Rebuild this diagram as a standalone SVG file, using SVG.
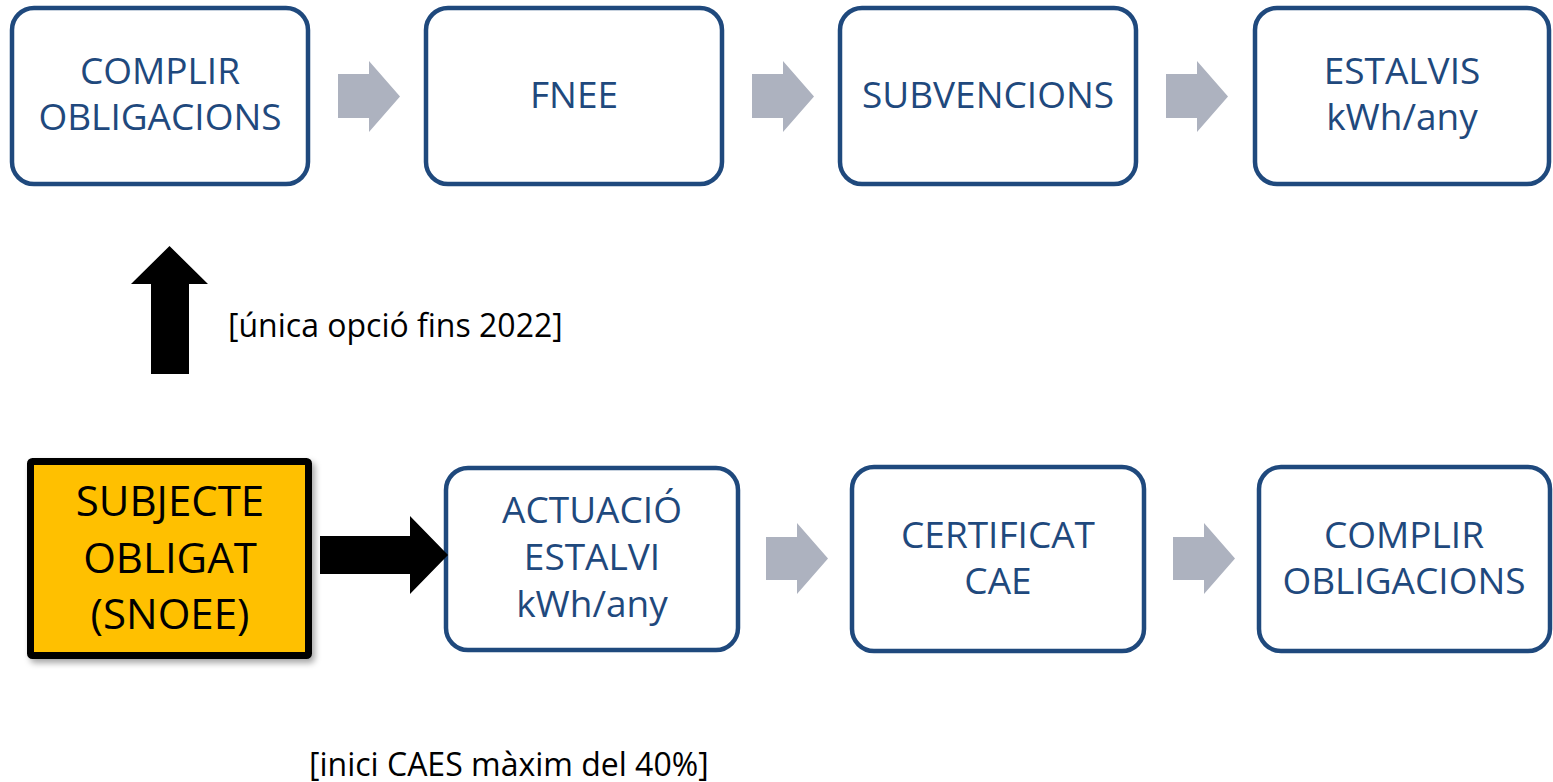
<svg xmlns="http://www.w3.org/2000/svg" width="1553" height="782" viewBox="0 0 1553 782">
<style>
.box{fill:#fff;stroke:#1F497D;stroke-width:4.5}
.bt{font-family:"Open Sans","Liberation Sans",sans-serif;font-size:37px;fill:#1F497D;text-anchor:middle}
.yt{font-family:"Open Sans","Liberation Sans",sans-serif;font-size:42px;fill:#000;text-anchor:middle}
.lbl{font-family:"Open Sans","Liberation Sans",sans-serif;font-size:32px;fill:#000}
.ga{fill:#ADB2BF}
.ba{fill:#000}
</style>
<defs>
<filter id="sh" x="-10%" y="-10%" width="130%" height="130%">
<feDropShadow dx="3" dy="4" stdDeviation="3" flood-color="#000" flood-opacity="0.35"/>
</filter>
</defs>
<rect width="1553" height="782" fill="#fff"/>
<g id="n1"><rect class="box" x="12" y="8" width="296" height="176" rx="22"/><text class="bt" x="160" y="84">COMPLIR</text><text class="bt" x="160" y="130">OBLIGACIONS</text></g>
<g id="n2"><rect class="box" x="426" y="8" width="296" height="176" rx="22"/><text class="bt" x="574" y="108">FNEE</text></g>
<g id="n3"><rect class="box" x="840" y="8" width="296" height="176" rx="22"/><text class="bt" x="988" y="108">SUBVENCIONS</text></g>
<g id="n4"><rect class="box" x="1255" y="8" width="294" height="176" rx="22"/><text class="bt" x="1402" y="84">ESTALVIS</text><text class="bt" x="1402" y="130">kWh/any</text></g>
<g id="n5"><rect x="30.5" y="461.5" width="278" height="194" rx="2" fill="#FFC000" stroke="#000" stroke-width="7" filter="url(#sh)"/><text class="yt" x="170" y="516">SUBJECTE</text><text class="yt" x="170" y="573">OBLIGAT</text><text class="yt" x="170" y="629">(SNOEE)</text></g>
<g id="n6"><rect class="box" x="446" y="468" width="292" height="182" rx="22"/><text class="bt" x="592" y="523">ACTUACIÓ</text><text class="bt" x="592" y="570">ESTALVI</text><text class="bt" x="592" y="617">kWh/any</text></g>
<g id="n7"><rect class="box" x="852" y="467" width="292" height="184" rx="22"/><text class="bt" x="998" y="548">CERTIFICAT</text><text class="bt" x="998" y="594">CAE</text></g>
<g id="n8"><rect class="box" x="1259" y="467" width="291" height="184" rx="22"/><text class="bt" x="1404" y="548">COMPLIR</text><text class="bt" x="1404" y="594">OBLIGACIONS</text></g>
<g id="connectors">
<polygon class="ga" points="338,74 369,74 369,61 400,96.5 369,132 369,118 338,118"/>
<polygon class="ga" points="752,74 783,74 783,61 814,96.5 783,132 783,118 752,118"/>
<polygon class="ga" points="1166,74 1197,74 1197,61 1228,96.5 1197,132 1197,118 1166,118"/>
<polygon class="ga" points="766,537 797,537 797,523 828,558.5 797,594 797,580 766,580"/>
<polygon class="ga" points="1173,537 1204,537 1204,523 1235,558.5 1204,594 1204,580 1173,580"/>
<polygon class="ba" points="320,536 410,536 410,516 448,555 410,594 410,574 320,574"/>
<polygon class="ba" points="151,374 151,284 131,284 169.5,246 208,284 189,284 189,374"/>
</g>
<text class="lbl" x="228" y="337">[única opció fins 2022]</text>
<text class="lbl" x="309" y="776">[inici CAES màxim del 40%]</text>
</svg>
